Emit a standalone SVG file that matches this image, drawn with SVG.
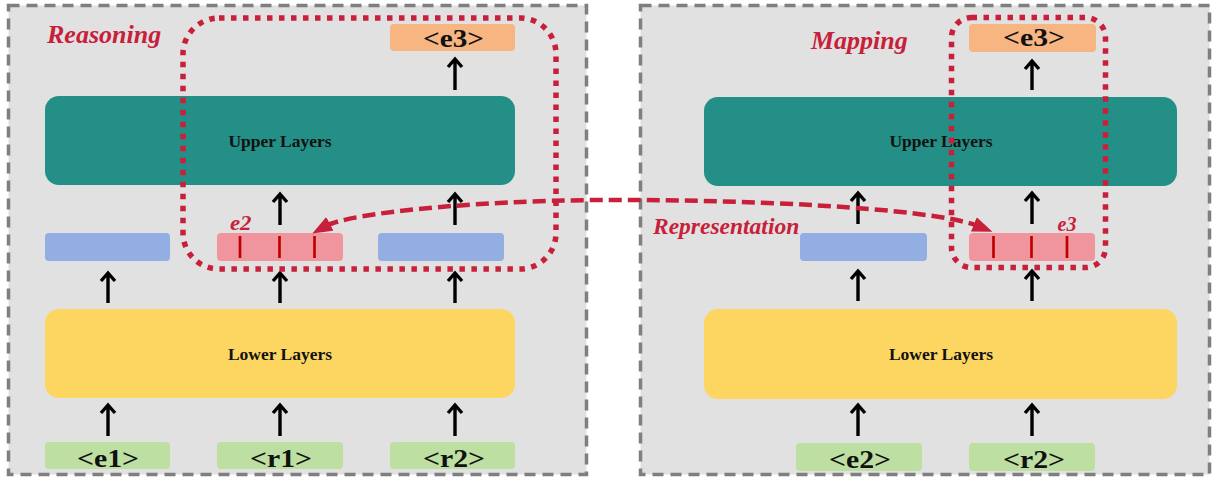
<svg xmlns="http://www.w3.org/2000/svg" width="1214" height="479" viewBox="0 0 1214 479">
<style>
.panel{fill:#E1E1E1;stroke:#7F7F7F;stroke-width:3.5;stroke-dasharray:11 7}
.upper{fill:#248F86}
.lower{fill:#FDD662}
.green{fill:#BDDFA2}
.orange{fill:#F7B582}
.blue{fill:#92AEE2}
.pink{fill:#F0959E}
.tick{stroke:#C00000;stroke-width:2.7}
.layer{font-family:"Liberation Serif","Times New Roman",serif;font-weight:bold;font-size:17.5px;fill:#111;text-anchor:middle}
.tok{font-family:"Liberation Serif","Times New Roman",serif;font-weight:bold;font-size:26px;fill:#111;text-anchor:middle}
.red{font-family:"Liberation Serif","Times New Roman",serif;font-weight:bold;font-style:italic;fill:#C8203A}
.arr{fill:none;stroke:#000;stroke-width:3.4;stroke-linejoin:miter}
.dot{fill:none;stroke:#C8203A;stroke-width:5.5;stroke-dasharray:5.5 6.5}
.dash{fill:none;stroke:#C8203A;stroke-width:4.5;stroke-dasharray:13 6}
</style>
<defs>
<marker id="rh" markerUnits="userSpaceOnUse" markerWidth="20" markerHeight="16" viewBox="0 0 18 14" refX="4" refY="7" orient="auto-start-reverse">
<path d="M0,0 L18,7 L0,14 z" fill="#C8203A"/>
</marker>
</defs>
<rect width="1214" height="479" fill="#FFFFFF"/>

<g id="panel-reasoning">
<rect class="panel" x="8.5" y="5.5" width="578" height="469"/>
<text class="red" x="47" y="42.5" font-size="26">Reasoning</text>
</g>
<g id="panel-mapping">
<rect class="panel" x="640.5" y="5.5" width="569" height="469"/>
<text class="red" x="811" y="49" font-size="26">Mapping</text>
<text class="red" x="653" y="234" font-size="23.5">Representation</text>
</g>

<g id="L-upper"><rect class="upper" x="45" y="96" width="470" height="89" rx="14"/><text class="layer" x="280" y="147">Upper Layers</text></g>
<g id="L-lower"><rect class="lower" x="45" y="309" width="470" height="89" rx="14"/><text class="layer" x="280" y="359.5">Lower Layers</text></g>
<g id="L-e1"><rect class="green" x="45" y="442" width="125" height="27" rx="4"/><text class="tok" x="108" y="467" textLength="62" lengthAdjust="spacingAndGlyphs">&lt;e1&gt;</text></g>
<g id="L-r1"><rect class="green" x="217" y="442" width="126" height="27" rx="4"/><text class="tok" x="281" y="467" textLength="62" lengthAdjust="spacingAndGlyphs">&lt;r1&gt;</text></g>
<g id="L-r2"><rect class="green" x="390" y="442" width="125" height="27" rx="4"/><text class="tok" x="454" y="467" textLength="62" lengthAdjust="spacingAndGlyphs">&lt;r2&gt;</text></g>
<g id="L-h1"><rect class="blue" x="45" y="233" width="125" height="28" rx="4"/></g>
<g id="L-h2"><rect class="pink" x="217" y="233" width="126" height="28" rx="4"/>
<line class="tick" x1="240" y1="236" x2="240" y2="258"/><line class="tick" x1="279.5" y1="236" x2="279.5" y2="258"/><line class="tick" x1="314.5" y1="236" x2="314.5" y2="258"/>
<text class="red" x="230" y="230" font-size="20" textLength="21.5" lengthAdjust="spacingAndGlyphs">e2</text></g>
<g id="L-h3"><rect class="blue" x="378" y="233" width="126" height="28" rx="4"/></g>
<g id="L-e3"><rect class="orange" x="390" y="24" width="125" height="27" rx="4"/><text class="tok" x="453.5" y="46.5" textLength="61" lengthAdjust="spacingAndGlyphs">&lt;e3&gt;</text></g>

<g id="R-upper"><rect class="upper" x="704" y="97" width="473" height="89" rx="14"/><text class="layer" x="941" y="147">Upper Layers</text></g>
<g id="R-lower"><rect class="lower" x="704" y="309" width="473" height="90" rx="14"/><text class="layer" x="941" y="360">Lower Layers</text></g>
<g id="R-e2"><rect class="green" x="796" y="443" width="126" height="28" rx="4"/><text class="tok" x="860" y="467.5" textLength="62" lengthAdjust="spacingAndGlyphs">&lt;e2&gt;</text></g>
<g id="R-r2"><rect class="green" x="969" y="443" width="126" height="28" rx="4"/><text class="tok" x="1034" y="467.5" textLength="62" lengthAdjust="spacingAndGlyphs">&lt;r2&gt;</text></g>
<g id="R-h1"><rect class="blue" x="800" y="233" width="127" height="28" rx="4"/></g>
<g id="R-h2"><rect class="pink" x="969" y="233" width="126" height="28" rx="4"/>
<line class="tick" x1="993.5" y1="236" x2="993.5" y2="258"/><line class="tick" x1="1031.5" y1="236" x2="1031.5" y2="258"/><line class="tick" x1="1067" y1="236" x2="1067" y2="258"/>
<text class="red" x="1057.5" y="230.5" font-size="20">e3</text></g>
<g id="R-e3"><rect class="orange" x="969" y="24" width="127" height="28" rx="4"/><text class="tok" x="1034" y="46.3" textLength="62" lengthAdjust="spacingAndGlyphs">&lt;e3&gt;</text></g>

<g id="connectors">
<path class="arr" d="M108 436V405M101 413L108 405L115 413"/>
<path class="arr" d="M280 436V405M273 413L280 405L287 413"/>
<path class="arr" d="M455 436V405M448 413L455 405L462 413"/>
<path class="arr" d="M108 303V273M101 281L108 273L115 281"/>
<path class="arr" d="M280 303V273M273 281L280 273L287 281"/>
<path class="arr" d="M455 303V273M448 281L455 273L462 281"/>
<path class="arr" d="M280 225V194M273 202L280 194L287 202"/>
<path class="arr" d="M455 225V194M448 202L455 194L462 202"/>
<path class="arr" d="M455 90V59M448 67L455 59L462 67"/>
<path class="arr" d="M858 436V405M851 413L858 405L865 413"/>
<path class="arr" d="M1032 436V405M1025 413L1032 405L1039 413"/>
<path class="arr" d="M858 301V271M851 279L858 271L865 279"/>
<path class="arr" d="M1032 301V271M1025 279L1032 271L1039 279"/>
<path class="arr" d="M858 224V193M851 201L858 193L865 201"/>
<path class="arr" d="M1032 224V193M1025 201L1032 193L1039 201"/>
<path class="arr" d="M1032 90V61M1025 69L1032 61L1039 69"/>
<rect class="dot" x="183" y="18" width="373" height="251" rx="36"/>
<rect class="dot" x="951.5" y="17.5" width="154" height="250" rx="20"/>
<path class="dash" d="M326 226C350 213 470 201 600 200C730 199 930 207 978 226" marker-start="url(#rh)" marker-end="url(#rh)"/>
</g>
</svg>
